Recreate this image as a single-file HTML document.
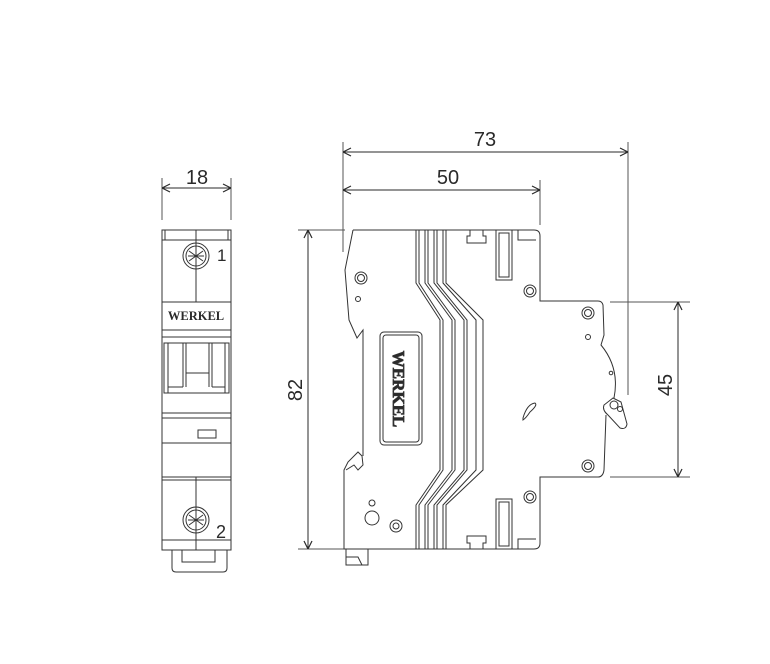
<!DOCTYPE html>
<html><head><meta charset="utf-8"><style>
html,body{margin:0;padding:0;background:#fff;}
svg{display:block;}
text{font-family:"Liberation Sans",sans-serif;fill:#2a2a2a;}
</style></head><body>
<svg width="770" height="664" viewBox="0 0 770 664" xmlns="http://www.w3.org/2000/svg">
<defs>
<marker id="ar" viewBox="0 0 10 10" refX="10" refY="5" markerWidth="10" markerHeight="10" orient="auto-start-reverse" markerUnits="userSpaceOnUse">
<path d="M2,1 L10,5 L2,9" fill="none" stroke="#2a2a2a" stroke-width="1.2"/>
</marker>
</defs>
<g stroke="#555" stroke-width="1" fill="none">
<line x1="162" y1="178" x2="162" y2="220"/>
<line x1="231" y1="178" x2="231" y2="220"/>
<line x1="162" y1="188" x2="231" y2="188" stroke="#2a2a2a" marker-start="url(#ar)" marker-end="url(#ar)"/>
<line x1="343" y1="142" x2="343" y2="252"/>
<line x1="628" y1="142" x2="628" y2="395"/>
<line x1="343" y1="152" x2="628" y2="152" stroke="#2a2a2a" marker-start="url(#ar)" marker-end="url(#ar)"/>
<line x1="540" y1="180" x2="540" y2="225"/>
<line x1="343" y1="190" x2="540" y2="190" stroke="#2a2a2a" marker-start="url(#ar)" marker-end="url(#ar)"/>
<line x1="298" y1="230" x2="345" y2="230"/>
<line x1="298" y1="549" x2="345" y2="549"/>
<line x1="308" y1="230" x2="308" y2="549" stroke="#2a2a2a" marker-start="url(#ar)" marker-end="url(#ar)"/>
<line x1="610" y1="302" x2="690" y2="302"/>
<line x1="610" y1="477" x2="690" y2="477"/>
<line x1="678" y1="302" x2="678" y2="477" stroke="#2a2a2a" marker-start="url(#ar)" marker-end="url(#ar)"/>
</g>
<text x="197" y="184" font-size="20" text-anchor="middle">18</text>
<text x="485" y="146" font-size="20" text-anchor="middle">73</text>
<text x="448" y="184" font-size="20" text-anchor="middle">50</text>
<text transform="translate(302,390) rotate(-90)" font-size="20" text-anchor="middle">82</text>
<text transform="translate(672,385) rotate(-90)" font-size="20" text-anchor="middle">45</text>

<g stroke="#333" stroke-width="1" fill="none">
<rect x="162" y="230" width="69" height="320"/>
<line x1="196" y1="230" x2="196" y2="302"/>
<line x1="196" y1="477" x2="196" y2="550"/>
<line x1="165" y1="230" x2="165" y2="240"/><line x1="228" y1="230" x2="228" y2="240"/>
<line x1="162" y1="240" x2="231" y2="240"/>
<circle cx="196" cy="256" r="13"/><circle cx="196" cy="256" r="10"/>
<path d="M189,251 L203,261 M189,261 L203,251 M196,248 L196,264 M188,256 L204,256"/>
<line x1="162" y1="302" x2="231" y2="302"/>
<line x1="162" y1="330" x2="231" y2="330"/>
<line x1="162" y1="337" x2="231" y2="337"/>
<rect x="164" y="343" width="65" height="50"/>
<line x1="168" y1="343" x2="168" y2="393"/><line x1="225" y1="343" x2="225" y2="393"/>
<line x1="183" y1="343" x2="183" y2="387"/><line x1="186" y1="343" x2="186" y2="387"/>
<line x1="209" y1="343" x2="209" y2="387"/><line x1="212" y1="343" x2="212" y2="387"/>
<line x1="186" y1="373" x2="209" y2="373"/>
<path d="M168,387 L183,387 M212,387 L225,387"/>
<line x1="162" y1="413" x2="231" y2="413"/>
<line x1="162" y1="418" x2="231" y2="418"/>
<rect x="198" y="430" width="18" height="8"/>
<line x1="162" y1="443" x2="231" y2="443"/>
<line x1="162" y1="477" x2="231" y2="477"/>
<line x1="162" y1="480" x2="231" y2="480"/>
<circle cx="196" cy="520" r="13"/><circle cx="196" cy="520" r="10"/>
<path d="M189,515 L203,525 M189,525 L203,515 M196,512 L196,528 M188,520 L204,520"/>
<line x1="162" y1="540" x2="231" y2="540"/>
<path d="M172,550 L172,568 Q172,572 176,572 L223,572 Q227,572 227,568 L227,550"/>
<path d="M182,550 L182,562 L215,562 L215,550"/>
</g>
<text x="217" y="261" font-size="17">1</text>
<text x="216" y="538" font-size="18">2</text>
<text x="196" y="320" font-size="12.5" font-weight="bold" text-anchor="middle" style="font-family:'Liberation Serif',serif" fill="#222">WERKEL</text>

<g stroke="#333" stroke-width="1" fill="none">
<path d="M353,230 L534,230 Q540,230 540,236 L540,301 L598,301 Q602,301 603,305 L604,335 L601,345 Q620,368 614,398 M606,415 L604,470 Q603,477 598,477 L540,477 L540,543 Q540,549 534,549 L344,549 L344,470 L348,462 L358,452 L362,456 L363,465 L358,470 L354,465 L346,470 M363,456 L363,330 L357,338 L349,320 L345,270 L353,230"/>
<path d="M613,398 L604,405 Q602,410 608,415 L620,428 Q626,430 627,424 L621,402 Z"/>
<circle cx="614" cy="405" r="4"/><circle cx="620" cy="409" r="2.5"/>
<circle cx="611" cy="373" r="1.8"/>
<circle cx="588" cy="313" r="6"/><circle cx="588" cy="313" r="3.5"/>
<circle cx="588" cy="337" r="2.5"/>
<circle cx="588" cy="466" r="6"/><circle cx="588" cy="466" r="3.5"/>
<circle cx="530" cy="291" r="6"/><circle cx="530" cy="291" r="3.5"/>
<circle cx="530" cy="497" r="6"/><circle cx="530" cy="497" r="3.5"/>
<circle cx="361" cy="278" r="6"/><circle cx="361" cy="278" r="3.5"/>
<circle cx="358" cy="299" r="2.5"/>
<circle cx="372" cy="503" r="3"/>
<circle cx="372" cy="518" r="7"/>
<circle cx="396" cy="526" r="6"/><circle cx="396" cy="526" r="3"/>
<path d="M523,418 Q527,404 535,403 Q538,405 530,412 Q526,418 523,420 Z"/>
<rect x="380" y="332" width="42" height="113" rx="4"/>
<rect x="383" y="335" width="36" height="107" rx="3"/>
<rect x="496" y="230" width="16" height="50"/><rect x="499" y="233" width="10" height="44"/>
<rect x="496" y="499" width="16" height="50"/><rect x="499" y="502" width="10" height="44"/>
<path d="M518,230 L518,240 L536,240 M518,549 L518,539 L536,539"/>
<path d="M470,230 L470,236 L467,236 L467,243 L486,243 L486,236 L483,236 L483,230"/>
<path d="M470,549 L470,543 L467,543 L467,536 L486,536 L486,543 L483,543 L483,549"/>
<path d="M346,549 L346,565 L368,565 L368,549 M346,557 L358,557 L362,565"/>
<g>
<path d="M416,230 L416,283 L440,320 L440,470 L416,505 L416,549"/>
<path d="M419,230 L419,283 L443,320 L443,470 L419,505 L419,549"/>
<path d="M425,230 L425,283 L452,320 L452,470 L425,505 L425,549"/>
<path d="M428,230 L428,283 L455,320 L455,470 L428,505 L428,549"/>
<path d="M434,230 L434,283 L464,320 L464,470 L434,505 L434,549"/>
<path d="M437,230 L437,283 L467,320 L467,470 L437,505 L437,549"/>
<path d="M443,230 L443,283 L476,320 L476,470 L443,505 L443,549"/>
<path d="M446,230 L446,283 L483,320 L483,470 L446,505 L446,549"/>
</g>
</g>
<text transform="translate(393,389) rotate(90)" font-size="17" text-anchor="middle" fill="none" stroke="#333" stroke-width="0.8" style="font-family:'Liberation Serif',serif;font-weight:bold">WERKEL</text>
</svg>
</body></html>
